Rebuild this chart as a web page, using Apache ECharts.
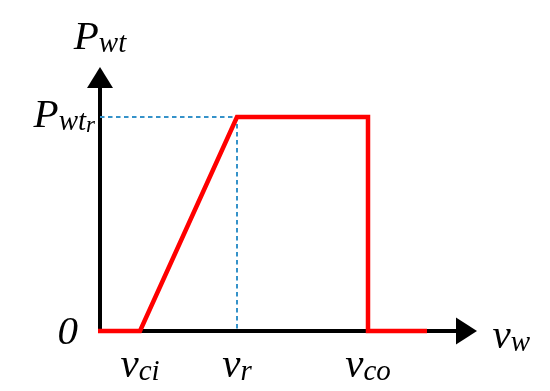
<!DOCTYPE html>
<html><head><meta charset="utf-8">
<script src="https://cdn.jsdelivr.net/npm/echarts@6/dist/echarts.min.js"></script>
<style>html,body{margin:0;padding:0;background:#fff}#c{width:550px;height:391px}</style>
</head><body><div id="c"></div>
<script>
// Wind turbine power curve (schematic)
const xTicks = [4, 13.7, 26.8];               // v_ci, v_r, v_co
const xTickLabels = ['{v|v}{s|ci}', '{v|v}{s|r}', '{v|v}{s|co}'];
const yTicks = [0, 1];                        // 0, P_wt_r
const yTickLabels = ['{z|0}', '{p|P}{s|wt}{ss|r}'];
const powerX = [-0.2, 4, 13.7, 26.8, 26.8, 32.7];
const powerY = [0, 0, 1, 1, 0, 0];
const guideX = [0, 13.7, 13.7];
const guideY = [1, 1, 0];

const font = '"Liberation Serif", "DejaVu Serif", serif';
const mainSz = 41, subSz = 29;
const chart = echarts.init(document.getElementById('c'), null, {renderer: 'canvas'});
chart.setOption({
  animation: false,
  grid: {left: 100, right: 83.5, top: 77.5, bottom: 60, containLabel: false},
  xAxis: {
    type: 'value', min: 0, max: 36.65,
    splitLine: {show: false}, axisTick: {show: false},
    axisLine: {lineStyle: {color: '#000', width: 4, cap: 'square'}, symbol: ['none', 'triangle'], symbolSize: [27, 21]},
    axisLabel: {
      customValues: xTicks, margin: 16,
      formatter: v => xTickLabels[xTicks.indexOf(v)],
      rich: {
        v: {fontFamily: font, fontStyle: 'italic', fontSize: mainSz, lineHeight: 40, verticalAlign: 'bottom', color: '#000'},
        s: {fontFamily: font, fontStyle: 'italic', fontSize: subSz, lineHeight: 19, verticalAlign: 'bottom', color: '#000'}
      }
    },
    name: '{v|v}{s|w}', nameLocation: 'end', nameGap: 26,
    nameTextStyle: {
      padding: [14, 0, 0, 0],
      rich: {
        v: {fontFamily: font, fontStyle: 'italic', fontSize: mainSz, lineHeight: 40, verticalAlign: 'bottom', color: '#000'},
        s: {fontFamily: font, fontStyle: 'italic', fontSize: subSz, lineHeight: 22, verticalAlign: 'bottom', color: '#000'}
      }
    }
  },
  yAxis: {
    type: 'value', min: 0, max: 1.1846,
    splitLine: {show: false}, axisTick: {show: false},
    axisLine: {lineStyle: {color: '#000', width: 4, cap: 'square'}, symbol: ['none', 'triangle'], symbolSize: [26, 21]},
    axisLabel: {
      customValues: yTicks, margin: 5,
      formatter: v => yTickLabels[yTicks.indexOf(v)],
      rich: {
        z: {fontFamily: font, fontStyle: 'italic', fontSize: mainSz, lineHeight: 40, padding: [4, 17, 0, 0], color: '#000'},
        p: {fontFamily: font, fontStyle: 'italic', fontSize: mainSz, lineHeight: 40, verticalAlign: 'bottom', color: '#000'},
        s: {fontFamily: font, fontStyle: 'italic', fontSize: subSz, lineHeight: 26, verticalAlign: 'bottom', color: '#000'},
        ss: {fontFamily: font, fontStyle: 'italic', fontSize: 23, lineHeight: 16, verticalAlign: 'bottom', color: '#000'}
      }
    },
    name: '{p|P}{s|wt}', nameLocation: 'end', nameGap: 19,
    nameTextStyle: {
      align: 'center',
      rich: {
        p: {fontFamily: font, fontStyle: 'italic', fontSize: mainSz, lineHeight: 40, verticalAlign: 'bottom', color: '#000'},
        s: {fontFamily: font, fontStyle: 'italic', fontSize: subSz, lineHeight: 26, verticalAlign: 'bottom', color: '#000'}
      }
    }
  },
  series: [
    {
      type: 'line', z: 3, symbol: 'none', clip: false,
      data: guideX.map((x, i) => [x, guideY[i]]),
      lineStyle: {color: '#3592c9', width: 2, type: [4.5, 3.5]}
    },
    {
      type: 'line', z: 4, symbol: 'none', clip: false,
      data: powerX.map((x, i) => [x, powerY[i]]),
      lineStyle: {color: '#ff0000', width: 4.5, join: 'miter', cap: 'butt'}
    }
  ]
});
</script></body></html>
